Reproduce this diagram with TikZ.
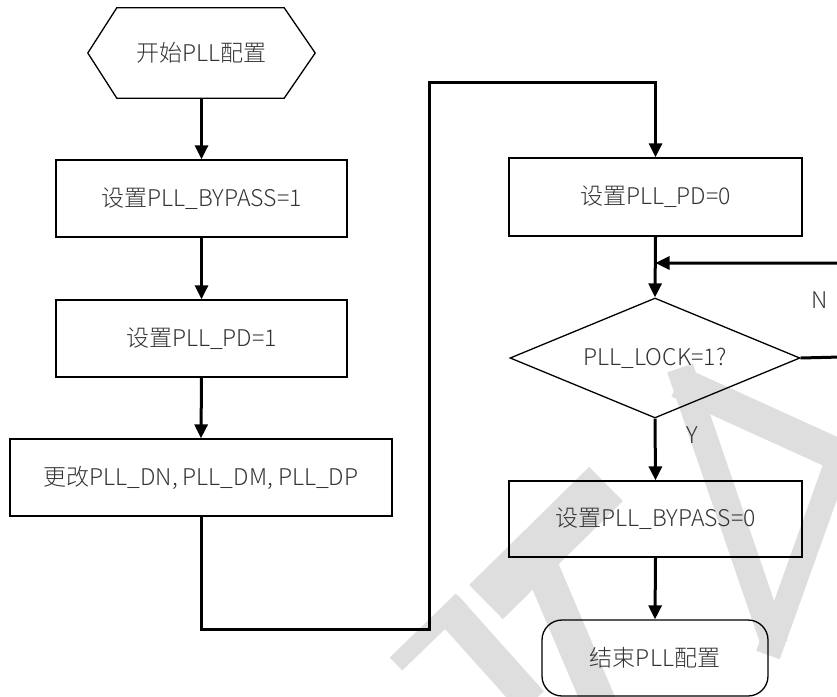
\documentclass[tikz,border=0pt]{standalone}
\usepackage{fontspec}
\newfontfamily\cjk{Noto Sans CJK SC}[UprightFont={* Light},BoldFont={*}]
\usetikzlibrary{arrows.meta,shapes.geometric}
\definecolor{txt}{HTML}{333333}
\definecolor{wm}{HTML}{DEDEDE}
\begin{document}
\begin{tikzpicture}[x=1pt,y=-1pt,
  box/.style={draw=black,line width=1.3pt,minimum width=291pt,minimum height=77pt,inner sep=0pt},
  lbl/.style={font=\cjk\fontsize{23}{27}\selectfont,text=txt},
  conn/.style={line width=3pt,-{Triangle[length=14pt,width=13pt]}},
  wmark/.style={wm,line width=#1,line cap=butt}]
\useasboundingbox (0,0) rectangle (837,696);
% watermark
\draw[wmark=18pt] (396,664) -- (462,600);
\draw[wmark=32pt] (446,606) -- (532,702);
\draw[wmark=48pt] (486,602) -- (606,484);
\draw[wmark=34pt] (530,540) -- (600,705);
\draw[wmark=27pt] (680,368) -- (775,645);
\draw[wmark=32pt] (678,382) -- (845,458);
\draw[wmark=25pt] (845,440) -- (768,655);
% nodes
\node[lbl,minimum width=227pt,minimum height=90pt,inner sep=0pt] (start) at (201.5,53) {开始PLL配置};
\draw[line width=1.3pt,line join=miter] (start.west) -- ([xshift=29pt]start.north west) -- ([xshift=-31pt]start.north east) -- (start.east) -- ([xshift=-31pt]start.south east) -- ([xshift=29pt]start.south west) -- cycle;
\node[box,lbl] (b1) at (201.5,198.5) {设置PLL\_BYPASS=1};
\node[box,lbl] (b2) at (201.5,338.5) {设置PLL\_PD=1};
\node[box,lbl,minimum width=382pt] (b3) at (201,477.5) {更改PLL\_DN, PLL\_DM, PLL\_DP};
\node[box,lbl,minimum width=293pt,minimum height=78pt] (b4) at (655.5,197) {设置PLL\_PD=0};
\node[draw=black,line width=1.3pt,diamond,minimum width=290pt,minimum height=120pt,inner sep=0pt] (d) at (655,358) {};
\node[lbl] (dt) at (d.center) {PLL\_LOCK=1?};
\node[box,lbl,minimum width=293pt,minimum height=76pt] (b5) at (655.5,519) {设置PLL\_BYPASS=0};
\node[draw=black,line width=1.3pt,rounded corners=20pt,minimum width=226pt,minimum height=76pt,inner sep=0pt,lbl] (e) at (655,658) {结束PLL配置};
\node[lbl] (nl) at (820,300) {N};
\node[lbl] (yl) at (692,435) {Y};
\coordinate (c1) at (201,629);
\coordinate (c2) at (429,629);
\coordinate (c3) at (429,82);
\coordinate (c4) at (655.5,82);
\coordinate (r1) at (841,357);
\coordinate (r2) at (841,263);
\coordinate (m) at (655.5,263);
% connectors
\draw[conn] (start.south) -- (b1.north);
\draw[conn] (b1.south) -- (b2.north);
\draw[conn] (b2.south) -- (b3.north);
\draw[conn] (b3.south) -- (c1) -- (c2) -- (c3) -- (c4) -- (b4.north);
\draw[conn] (b4.south) -- (d.north);
\draw[conn] (d.east) -- (r1) -- (r2) -- (m);
\draw[conn] (d.south) -- (b5.north);
\draw[conn] (b5.south) -- (e.north);
\end{tikzpicture}
\end{document}
